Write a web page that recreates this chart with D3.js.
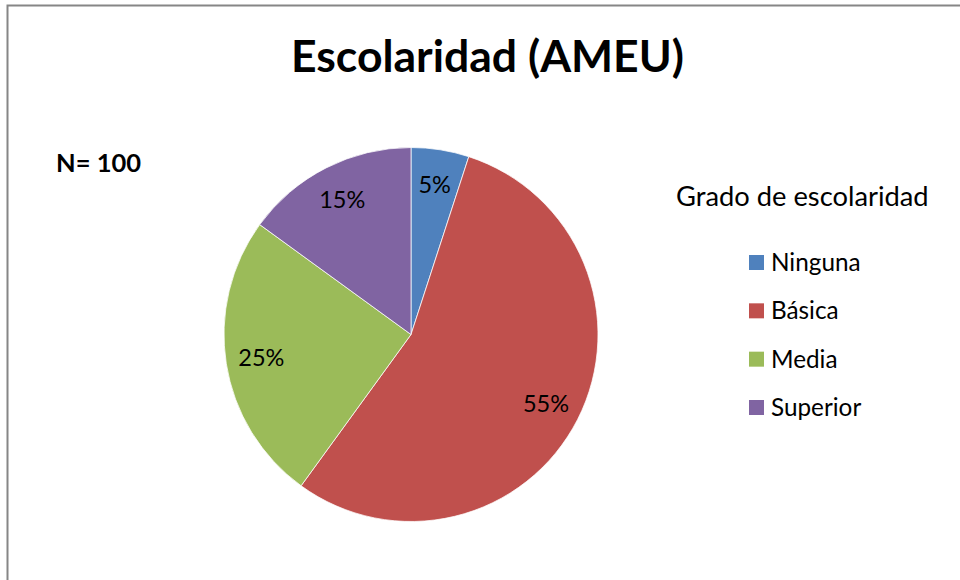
<!DOCTYPE html>
<html>
<head>
<meta charset="utf-8">
<script src="https://cdn.jsdelivr.net/npm/d3@7"></script>
<style>
  body { margin: 0; background: #fff; }
  svg text { font-family: Lato, "Open Sans", sans-serif; }
</style>
</head>
<body>
<svg id="chart" width="960" height="580"></svg>
<script>
// Chart data
var categories = ["Ninguna", "Básica", "Media", "Superior"];
var values = [5, 55, 25, 15];
var colors = ["#4F81BD", "#C0504D", "#9BBB59", "#8064A2"];
var title = "Escolaridad (AMEU)";
var legendTitle = "Grado de escolaridad";
var note = "N= 100";

var svg = d3.select("#chart");

// Chart frame: only top and left edges are visible in the picture
svg.append("path")
    .attr("d", "M7.5,580 L7.5,5.5 L960,5.5")
    .attr("fill", "none")
    .attr("stroke", "#868686")
    .attr("stroke-width", 2);

svg.append("text")
    .attr("x", 487.5)
    .attr("y", 72)
    .attr("text-anchor", "middle")
    .attr("font-size", 44.5)
    .attr("font-weight", "bold")
    .text(title);

svg.append("text")
    .attr("x", 56)
    .attr("y", 172)
    .attr("font-size", 25.5)
    .attr("font-weight", "bold")
    .text(note);

// Pie
var cx = 411, cy = 334.5, radius = 187;
var pie = d3.pie().sort(null).value(function (d) { return d; });
var arc = d3.arc().innerRadius(0).outerRadius(radius);
var labelArc = d3.arc().innerRadius(radius * 0.81).outerRadius(radius * 0.81);
var total = d3.sum(values);

var g = svg.append("g").attr("transform", "translate(" + cx + "," + cy + ")");
var slices = g.selectAll("g.slice")
    .data(pie(values))
    .enter().append("g")
    .attr("class", "slice");

slices.append("path")
    .attr("d", arc)
    .attr("fill", function (d, i) { return colors[i]; })
    .attr("stroke", "#fff")
    .attr("stroke-width", 0.75);

slices.append("text")
    .attr("transform", function (d) { return "translate(" + labelArc.centroid(d) + ")"; })
    .attr("text-anchor", "middle")
    .attr("dy", ".35em")
    .attr("font-size", 23.5)
    .attr("fill", "#000")
    .text(function (d) { return Math.round(d.value / total * 100) + "%"; });

// Legend
svg.append("text")
    .attr("x", 676)
    .attr("y", 206)
    .attr("font-size", 27.3)
    .text(legendTitle);

var legendY = d3.scalePoint().domain(categories).range([262.5, 407.5]);
var legend = svg.selectAll("g.legend")
    .data(categories)
    .enter().append("g")
    .attr("class", "legend")
    .attr("transform", function (d) { return "translate(749," + legendY(d) + ")"; });

legend.append("rect")
    .attr("x", 0)
    .attr("y", -7.5)
    .attr("width", 15)
    .attr("height", 15)
    .attr("fill", function (d, i) { return colors[i]; });

legend.append("text")
    .attr("x", 22)
    .attr("dy", ".35em")
    .attr("font-size", 24.3)
    .text(function (d) { return d; });
</script>
</body>
</html>
